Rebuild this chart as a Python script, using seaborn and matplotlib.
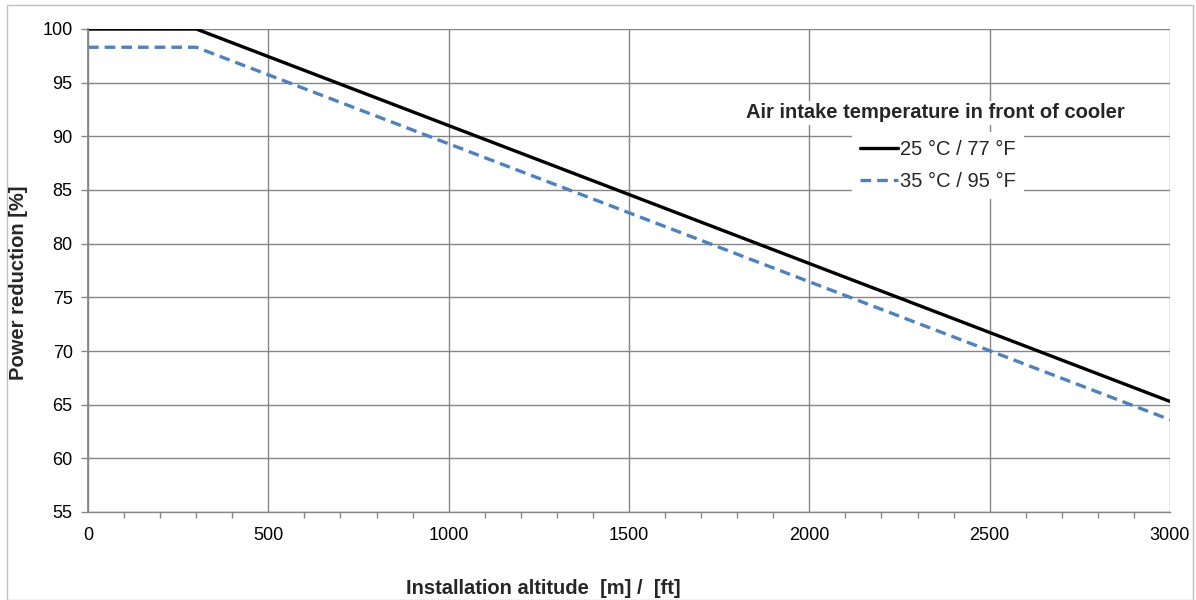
import numpy as np
import pandas as pd
import matplotlib
matplotlib.use('Agg')
import matplotlib.pyplot as plt
import seaborn as sns
from matplotlib.patches import Rectangle

# data
altitude = [0, 300, 3000]
power_25 = [100, 100, 65.3]
power_35 = [98.3, 98.3, 63.6]
labels = ['25 °C / 77 °F', '35 °C / 95 °F']
x_ticks = [0, 500, 1000, 1500, 2000, 2500, 3000]
y_ticks = [55, 60, 65, 70, 75, 80, 85, 90, 95, 100]

sns.set_style('white')
plt.rcParams['font.family'] = ['Liberation Sans', 'DejaVu Sans']

grid_col = '#868686'

fig = plt.figure(figsize=(11.96, 6), dpi=100)
ax = fig.add_axes([88/1196, 88/600, (1170-88)/1196, (512-29)/600])

df = pd.DataFrame({'alt': altitude, 'p25': power_25, 'p35': power_35})
sns.lineplot(data=df, x='alt', y='p25', ax=ax, color='black', lw=2.4, label=labels[0])
sns.lineplot(data=df, x='alt', y='p35', ax=ax, color='#4F81BD', lw=2.4,
             linestyle=(0, (3.2, 1.8)), label=labels[1])

ax.set_xlim(0, 3000)
ax.set_ylim(55, 100)
ax.set_xticks(x_ticks)
ax.set_yticks(y_ticks)
ax.set_xticks(np.arange(0, 3001, 100), minor=True)
ax.tick_params(axis='both', which='major', labelsize=13, colors='black', pad=6)
ax.tick_params(axis='x', which='major', direction='out', length=5, color=grid_col, width=1)
ax.tick_params(axis='x', which='minor', direction='out', length=4, color=grid_col, width=1, bottom=True)
ax.tick_params(axis='y', which='major', direction='out', length=5, color=grid_col, width=1, left=True)
ax.grid(True, which='major', color=grid_col, lw=1)
ax.set_axisbelow(True)
for s in ['top', 'right']:
    ax.spines[s].set_visible(False)
ax.spines['left'].set_color(grid_col)
ax.spines['bottom'].set_color(grid_col)
ax.spines['left'].set_linewidth(1.3)
ax.spines['bottom'].set_linewidth(1)

ax.set_xlabel('')
ax.set_ylabel('')
fig.text(543/1196, 1 - 588/600, 'Installation altitude  [m] /  [ft]', ha='center', va='center',
         fontsize=14.5, fontweight='bold')
fig.text(19/1196, 1 - 283/600, 'Power reduction [%]', ha='center', va='center',
         rotation=90, fontsize=14.5, fontweight='bold')

# legend title as separate text box, like the original
fig.text(935/1196, 1 - 113/600, 'Air intake temperature in front of cooler', ha='center', va='center',
         fontsize=14.5, fontweight='bold',
         bbox=dict(facecolor='white', edgecolor='none', pad=2))
leg = ax.legend(loc='upper left', bbox_to_anchor=(852/1196, 1 - 132/600),
                bbox_transform=fig.transFigure, borderaxespad=0, fontsize=14.5, frameon=True,
                handlelength=1.9, handletextpad=0.1, labelspacing=0.66,
                borderpad=0.4, fancybox=False)
leg.get_frame().set_facecolor('white')
leg.get_frame().set_edgecolor('none')
leg.get_frame().set_alpha(1)

fig.patches.append(Rectangle((7/1196, 0), 1186/1196, 1 - 5/600, transform=fig.transFigure,
                             fill=False, edgecolor='#BFBFBF', lw=1))

fig.savefig('out.png', dpi=100)
